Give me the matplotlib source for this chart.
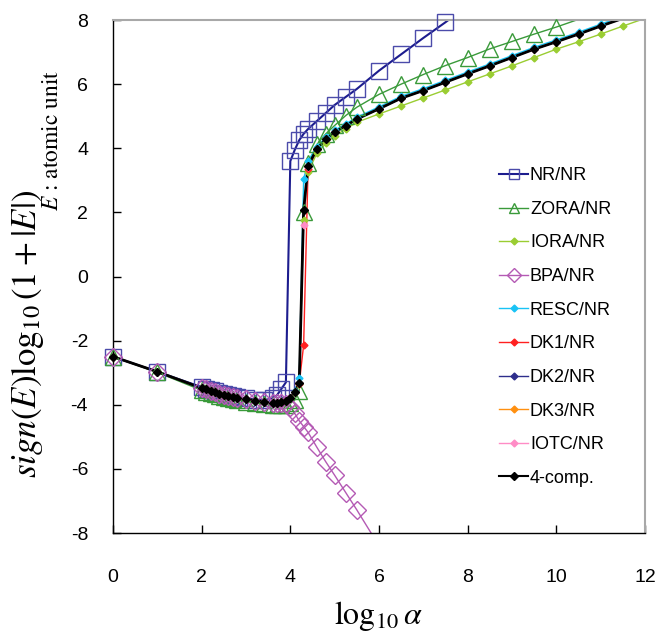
import numpy as np
import matplotlib.pyplot as plt
from matplotlib.lines import Line2D

plt.rcParams['font.family'] = ['Liberation Sans', 'DejaVu Sans']
plt.rcParams['mathtext.fontset'] = 'stix'
plt.rcParams['axes.unicode_minus'] = False

# log10(alpha) grid shared by all series
log_alpha = [0, 1, 2.0, 2.1, 2.2, 2.3, 2.4, 2.5, 2.6, 2.7, 2.8, 3.0, 3.2, 3.4,
             3.6, 3.7, 3.8, 3.9, 4.0, 4.1, 4.2, 4.3, 4.4, 4.6, 4.8, 5.0, 5.25,
             5.5, 6.0, 6.5, 7.0, 7.5, 8.0, 8.5, 9.0, 9.5, 10.0, 10.5, 11.0,
             11.5, 12.0]

nan = np.nan
low_common = [-2.50, -2.97, -3.48, -3.52, -3.56, -3.61, -3.65, -3.69, -3.72,
              -3.75, -3.78, -3.83, -3.87, -3.91, -3.94, -3.94, -3.92, -3.87]

nr_nr = [-2.50, -2.97, -3.45, -3.50, -3.54, -3.58, -3.62, -3.66, -3.69,
         -3.72, -3.75, -3.80, -3.84, -3.86, -3.80, -3.70, -3.50, -3.30,
         3.60, 3.95, 4.25, 4.45, 4.60, 4.85, 5.10, 5.35, 5.60, 5.85,
         6.42, 6.93, 7.44, 7.93, 8.45, 8.95, 9.45, 9.95, 10.45, 10.95,
         11.45, 11.95, 12.45]
zora_nr = [-2.50, -2.99, -3.55, -3.59, -3.63, -3.68, -3.72, -3.76, -3.79,
           -3.82, -3.85, -3.90, -3.94, -3.98, -4.01, -4.02, -4.02, -4.00,
           -3.96, -3.85, -3.56, 2.02, 3.53, 4.12, 4.45, 4.71, 5.02, 5.28,
           5.68, 6.00, 6.30, 6.58, 6.83, 7.10, 7.33, 7.56, 7.78, 8.02, 8.25,
           8.48, 8.70]
iora_nr = low_common + [-3.79, -3.60, -3.34, 1.76, 3.25, 3.85, 4.15, 4.38,
                        4.60, 4.81, 5.07, 5.32, 5.57, 5.82, 6.07, 6.32, 6.57,
                        6.83, 7.09, 7.32, 7.56, 7.81, 8.05]
bpa_nr = low_common[:16] + [-3.95, -3.98, -4.07, -4.27, -4.50, -4.68, -4.86,
                            -5.33, -5.78, -6.20, -6.74, -7.28, -8.40] + [nan] * 12
resc_nr = low_common + [-3.78, -3.56, -3.18, 3.03, 3.60, 4.05, 4.34, 4.56,
                        4.76, 4.97, 5.29, 5.62, 5.86, 6.12, 6.38, 6.63, 6.89,
                        7.15, 7.38, 7.62, 7.87, 8.11, 8.36]
four_comp = low_common + [-3.79, -3.60, -3.32, 2.07, 3.45, 3.98, 4.28, 4.50,
                          4.70, 4.91, 5.23, 5.56, 5.80, 6.06, 6.32, 6.57, 6.83,
                          7.09, 7.32, 7.56, 7.81, 8.05, 8.30]
dk1_nr = low_common + [-3.79, -3.61, -3.35, -2.14, 3.35] + four_comp[23:]
dk2_nr = list(four_comp)
dk3_nr = list(four_comp)
iotc_nr = low_common + [-3.79, -3.60, -3.33, 1.60, 3.42] + four_comp[23:]

labels = ['NR/NR', 'ZORA/NR', 'IORA/NR', 'BPA/NR', 'RESC/NR', 'DK1/NR',
          'DK2/NR', 'DK3/NR', 'IOTC/NR', '4-comp.']

series = [nr_nr, zora_nr, iora_nr, bpa_nr, resc_nr, dk1_nr, dk2_nr, dk3_nr,
          iotc_nr, four_comp]
# line colour, marker, marker size, marker face, marker edge, line width
styles = [
    ('#1C1C8E', 's', 12, 'none', '#4B4BAA', 1.5),
    ('#3A9A3A', '^', 11, 'none', '#3A9A3A', 1.0),
    ('#9ACD32', 'D', 3.5, '#9ACD32', '#9ACD32', 1.0),
    ('#B45AB4', 'D', 9, 'none', '#B45AB4', 1.0),
    ('#19C3F5', 'D', 3.5, '#19C3F5', '#19C3F5', 1.0),
    ('#FF2020', 'D', 3.5, '#FF2020', '#FF2020', 1.0),
    ('#2E2E8C', 'D', 3.5, '#2E2E8C', '#2E2E8C', 1.0),
    ('#FF9010', 'D', 3.5, '#FF9010', '#FF9010', 1.0),
    ('#FF8CC6', 'D', 3.5, '#FF8CC6', '#FF8CC6', 1.0),
    ('#000000', 'D', 4.0, '#000000', '#000000', 2.0),
]

fig = plt.figure(figsize=(6.57, 6.37), dpi=100)
ax = fig.add_axes([113 / 657, 104 / 637, 532 / 657, 513 / 637])

x = np.array(log_alpha)
handles = []
for ys, lab, (lc, mk, ms, mf, me, lw) in zip(series, labels, styles):
    y = np.array(ys, dtype=float)
    ax.plot(x, y, color=lc, lw=lw, zorder=2)
    inside = (y >= -8.0) & (y <= 8.0)
    ax.plot(x[inside], y[inside], ls='none', marker=mk, ms=ms,
            mfc=mf, mec=me, mew=1.0, clip_on=False, zorder=3)
    handles.append(Line2D([], [], color=lc, lw=min(lw, 1.5),
                          marker=mk, ms=7 if ms > 5 else ms,
                          mfc=mf, mec=me, mew=1.0))

ax.set_xlim(0, 12)
ax.set_ylim(-8, 8)
ax.set_xticks(range(0, 13, 2))
ax.set_yticks(range(-8, 9, 2))
ax.tick_params(axis='both', direction='in', length=6, width=1,
               labelsize=14, top=False, right=False)
ax.tick_params(axis='x', pad=26)
ax.tick_params(axis='y', pad=18)
for s in ['left', 'bottom']:
    ax.spines[s].set_color('black')
    ax.spines[s].set_linewidth(1.0)
for s in ['top', 'right']:
    ax.spines[s].set_color('#A8A8A8')
    ax.spines[s].set_linewidth(1.5)

fig.text(378 / 657, 1 - 616 / 637, r'$\log_{10}\alpha$', fontsize=23,
         ha='center', va='center')
ylab = fig.text(28 / 657, 1 - 334 / 637, r'$sign(E)\log_{10}(1+|E|)$',
                fontsize=20, rotation=90, ha='center', va='center')
elab = fig.text(52 / 657, 1 - 140 / 637, r'$E$ : atomic unit', fontsize=15,
                rotation=90, ha='center', va='center',
                family=['STIXGeneral', 'DejaVu Serif'])

# fit the rotated labels to the lengths seen in the reference
renderer = fig.canvas.get_renderer()
for txt, target in [(ylab, 288), (elab, 142)]:
    h = txt.get_window_extent(renderer).height
    txt.set_fontsize(txt.get_fontsize() * target / h)

ax.legend(handles, labels, loc='upper left', frameon=False, fontsize=13,
          bbox_to_anchor=(492 / 657, 1 - 160 / 637),
          bbox_transform=fig.transFigure, handlelength=1.6,
          handletextpad=0.1, labelspacing=0.92, borderaxespad=0)

plt.savefig('out.png', dpi=100)
